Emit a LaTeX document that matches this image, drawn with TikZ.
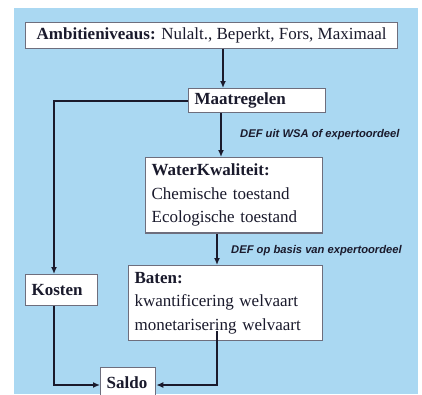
\documentclass[tikz,border=0pt]{standalone}
\usepackage{fontspec}
\setmainfont{Liberation Serif}
\newfontfamily\labfont{Liberation Sans}
\usetikzlibrary{arrows.meta,positioning}
\definecolor{bgblue}{RGB}{170,216,242}
\definecolor{ink}{RGB}{26,26,44}
\definecolor{boxline}{RGB}{110,110,125}
\tikzset{
  box/.style={draw=boxline, line width=1.3pt, fill=white, anchor=north west,
    inner xsep=6pt, inner ysep=3pt, align=left, text=ink,
    font=\fontsize{17}{23.5}\selectfont},
  tallbox/.style={box, inner ysep=6.5pt},
  conn/.style={draw=ink, line width=1.8pt},
  arr/.style={conn, -{Latex[length=7pt,width=6pt]}},
  lab/.style={anchor=west, inner sep=0pt, text=ink,
    font=\labfont\bfseries\itshape\fontsize{11.2}{12}\selectfont},
}
\begin{document}
\begin{tikzpicture}[x=1pt,y=-1pt]
\useasboundingbox (0,0) rectangle (422,394);
\fill[white] (0,0) rectangle (422,394);
\fill[bgblue] (14,8) rectangle (418,394);

\node[box, minimum width=372pt, minimum height=26pt, align=center] (amb) at (25,22)
  {\textbf{Ambitieniveaus:} Nulalt., Beperkt, Fors, Maximaal};
\node[box, minimum width=137pt, minimum height=24pt, text width=125pt] (maat) at (188,88)
  {\textbf{Maatregelen}};
\node[tallbox, minimum width=177pt, minimum height=73pt, text width=165pt] (wk) at (145,157)
  {\textbf{WaterKwaliteit:}\\Chemische toestand\\Ecologische toestand};
\node[tallbox, minimum width=194pt, minimum height=75pt, text width=182pt] (baten) at (128,265)
  {\textbf{Baten:}\\kwantificering welvaart\\monetarisering welvaart};
\node[box, minimum width=72pt, minimum height=31pt, text width=60pt] (kosten) at (25,274)
  {\textbf{Kosten}};
\node[box, minimum width=55pt, minimum height=30pt, text width=43pt] (saldo) at (100,367)
  {\textbf{Saldo}};

\coordinate (xa) at (223,0);
\coordinate (xb) at (221,0);
\coordinate (xc) at (217,0);
\coordinate (xk) at (54,0);
\coordinate (ys) at (0,385);

\draw[arr] (amb.south -| xa) -- (maat.north -| xa);
\draw[arr] (maat.west) -| (kosten.north -| xk);
\draw[arr] (maat.south -| xb) -- (wk.north -| xb);
\draw[arr] (wk.south -| xc) -- (baten.north -| xc);
\draw[arr] (kosten.south -| xk) |- (saldo.west |- ys);
\draw[arr] ([yshift=10pt]baten.south -| xc) |- (saldo.east |- ys);

\node[lab] (l1) at (240,135) {DEF uit WSA of expertoordeel};
\node[lab] (l2) at (231,251) {DEF op basis van expertoordeel};
\end{tikzpicture}
\end{document}
